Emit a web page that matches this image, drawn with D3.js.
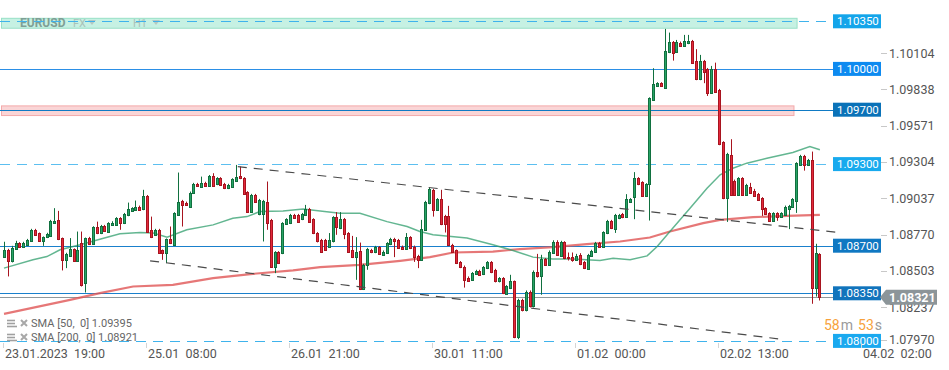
<!DOCTYPE html>
<html>
<head>
<meta charset="utf-8">
<script src="https://cdn.jsdelivr.net/npm/d3@7"></script>
<style>
  body { margin: 0; background: #fff; }
  svg { display: block; font-family: Roboto, "Open Sans", sans-serif; }
</style>
</head>
<body>
<div id="chart"></div>
<script>
// EURUSD H1, first candle 23.01.2023 19:00, one candle per hour
var ohlc = [
  [1.08620,1.08729,1.08614,1.08670],[1.08670,1.08677,1.08474,1.08584],[1.08584,1.08699,1.08577,1.08682],
  [1.08675,1.08736,1.08670,1.08719],[1.08719,1.08726,1.08690,1.08694],[1.08694,1.08729,1.08687,1.08719],
  [1.08707,1.08750,1.08700,1.08743],[1.08731,1.08824,1.08728,1.08817],[1.08817,1.08824,1.08773,1.08780],
  [1.08793,1.08797,1.08729,1.08738],[1.08738,1.08768,1.08699,1.08763],[1.08763,1.08795,1.08756,1.08787],
  [1.08775,1.08890,1.08768,1.08885],[1.08870,1.08976,1.08866,1.08885],[1.08890,1.08956,1.08741,1.08748],
  [1.08756,1.08760,1.08518,1.08596],[1.08596,1.08648,1.08535,1.08640],[1.08625,1.08756,1.08618,1.08675],
  [1.08675,1.08680,1.08584,1.08591],[1.08591,1.08804,1.08584,1.08665],[1.08723,1.08804,1.08400,1.08412],
  [1.08425,1.08760,1.08356,1.08756],[1.08756,1.08765,1.08707,1.08714],[1.08714,1.08843,1.08707,1.08836],
  [1.08836,1.08877,1.08785,1.08793],[1.08793,1.08853,1.08785,1.08846],[1.08846,1.08853,1.08804,1.08811],
  [1.08804,1.08873,1.08797,1.08866],[1.08853,1.08880,1.08846,1.08870],[1.08853,1.08910,1.08846,1.08902],
  [1.08902,1.08910,1.08817,1.08866],[1.08866,1.08941,1.08859,1.08934],[1.08924,1.09017,1.08917,1.08969],
  [1.08956,1.08983,1.08949,1.08976],[1.08964,1.09032,1.08956,1.08988],[1.08988,1.08995,1.08956,1.08964],
  [1.08969,1.09111,1.08961,1.09066],[1.09066,1.09073,1.08797,1.08804],[1.08817,1.08914,1.08756,1.08763],
  [1.08780,1.08824,1.08773,1.08817],[1.08817,1.08824,1.08643,1.08650],[1.08665,1.08672,1.08596,1.08645],
  [1.08645,1.08753,1.08572,1.08748],[1.08748,1.08841,1.08712,1.08719],[1.08707,1.08946,1.08700,1.08939],
  [1.08927,1.09238,1.08920,1.09024],[1.09030,1.09037,1.08841,1.09000],[1.09017,1.09024,1.08993,1.09000],
  [1.08988,1.09098,1.08981,1.09091],[1.09086,1.09162,1.09080,1.09155],[1.09155,1.09162,1.09133,1.09140],
  [1.09135,1.09208,1.09128,1.09164],[1.09164,1.09170,1.09133,1.09140],[1.09140,1.09220,1.09133,1.09213],
  [1.09213,1.09233,1.09133,1.09140],[1.09153,1.09204,1.09145,1.09196],[1.09196,1.09204,1.09140,1.09147],
  [1.09155,1.09162,1.09116,1.09123],[1.09123,1.09155,1.09116,1.09147],[1.09135,1.09196,1.09128,1.09189],
  [1.09179,1.09294,1.09172,1.09204],[1.09213,1.09282,1.09189,1.09196],[1.09196,1.09204,1.09074,1.09081],
  [1.09094,1.09101,1.08944,1.08951],[1.08949,1.09081,1.08942,1.09074],[1.09074,1.09081,1.09017,1.09024],
  [1.08932,1.09044,1.08924,1.09037],[1.08932,1.09037,1.08731,1.09030],[1.09024,1.09172,1.08817,1.08866],
  [1.08890,1.08897,1.08540,1.08547],[1.08547,1.08660,1.08498,1.08653],[1.08653,1.08660,1.08565,1.08572],
  [1.08645,1.08873,1.08638,1.08866],[1.08860,1.08902,1.08853,1.08895],[1.08866,1.08934,1.08859,1.08927],
  [1.08927,1.08934,1.08900,1.08907],[1.08927,1.08934,1.08870,1.08877],[1.08895,1.08941,1.08888,1.08934],
  [1.08927,1.09000,1.08920,1.08971],[1.08971,1.08978,1.08870,1.08877],[1.08895,1.08902,1.08785,1.08793],
  [1.08793,1.08800,1.08724,1.08731],
  [1.08743,1.08750,1.08650,1.08657],[1.08743,1.08750,1.08663,1.08670],[1.08694,1.08793,1.08687,1.08743],
  [1.08731,1.08917,1.08724,1.08910],[1.08910,1.08947,1.08780,1.08834],[1.08829,1.08947,1.08822,1.08897],
  [1.08897,1.08904,1.08748,1.08787],[1.08793,1.08800,1.08650,1.08657],[1.08670,1.08772,1.08609,1.08616],
  [1.08616,1.08763,1.08449,1.08653],[1.08662,1.08723,1.08374,1.08381],[1.08381,1.08567,1.08374,1.08559],
  [1.08559,1.08684,1.08523,1.08677],[1.08670,1.08677,1.08645,1.08653],[1.08653,1.08699,1.08645,1.08689],
  [1.08689,1.08697,1.08633,1.08640],[1.08635,1.08665,1.08628,1.08657],[1.08650,1.08726,1.08643,1.08719],
  [1.08711,1.08758,1.08704,1.08750],[1.08750,1.08758,1.08616,1.08731],[1.08743,1.08750,1.08679,1.08686],
  [1.08694,1.08701,1.08670,1.08677],[1.08677,1.08793,1.08670,1.08763],[1.08763,1.08770,1.08675,1.08682],
  [1.08694,1.08701,1.08581,1.08616],[1.08625,1.08633,1.08535,1.08596],[1.08596,1.08890,1.08589,1.08822],
  [1.08817,1.09030,1.08810,1.09024],[1.09013,1.09130,1.09005,1.09116],[1.09111,1.09118,1.08914,1.08964],
  [1.08964,1.09050,1.08956,1.09042],[1.09042,1.09111,1.08851,1.08858],[1.08919,1.08927,1.08797,1.08858],
  [1.08919,1.08993,1.08700,1.08707],[1.08707,1.08714,1.08650,1.08657],[1.08665,1.08672,1.08565,1.08572],
  [1.08579,1.08587,1.08535,1.08542],[1.08547,1.08554,1.08392,1.08449],[1.08466,1.08474,1.08434,1.08442],
  [1.08449,1.08506,1.08442,1.08498],[1.08493,1.08523,1.08486,1.08515],[1.08515,1.08523,1.08478,1.08486],
  [1.08491,1.08550,1.08484,1.08542],[1.08535,1.08587,1.08528,1.08579],[1.08579,1.08587,1.08498,1.08506],
  [1.08523,1.08530,1.08430,1.08437],[1.08437,1.08469,1.08430,1.08462],[1.08462,1.08469,1.08344,1.08351],
  [1.08346,1.08410,1.08339,1.08400],[1.08388,1.08486,1.08381,1.08437],[1.08437,1.08444,1.08020,1.08028],
  [1.08028,1.08310,1.08013,1.08302],[1.08302,1.08310,1.08217,1.08224],[1.08224,1.08371,1.08217,1.08363],
  [1.08363,1.08371,1.08246,1.08253],[1.08253,1.08518,1.08246,1.08510],[1.08510,1.08640,1.08466,1.08474],
  [1.08474,1.08633,1.08339,1.08601],[1.08601,1.08609,1.08552,1.08559],[1.08559,1.08665,1.08552,1.08657],
  [1.08650,1.08740,1.08643,1.08726],[1.08726,1.08740,1.08625,1.08633],[1.08625,1.08736,1.08618,1.08726],
  [1.08726,1.08733,1.08601,1.08608],[1.08620,1.08650,1.08591,1.08608],[1.08616,1.08650,1.08582,1.08596],
  [1.08596,1.08640,1.08589,1.08625],[1.08633,1.08645,1.08557,1.08564],[1.08579,1.08587,1.08528,1.08535],
  [1.08530,1.08640,1.08523,1.08633],[1.08625,1.08670,1.08618,1.08662],[1.08657,1.08728,1.08650,1.08721],
  [1.08721,1.08728,1.08687,1.08694],[1.08694,1.08806,1.08687,1.08798],[1.08793,1.08890,1.08785,1.08883],
  [1.08883,1.08890,1.08822,1.08829],[1.08822,1.08934,1.08794,1.08927],
  [1.08902,1.08934,1.08895,1.08927],[1.08934,1.08941,1.08902,1.08910],[1.08914,1.09079,1.08907,1.09042],
  [1.09024,1.09050,1.09017,1.09042],[1.09061,1.09241,1.08895,1.09196],[1.09196,1.09204,1.09145,1.09153],
  [1.09167,1.09174,1.09059,1.09066],[1.09066,1.09160,1.09059,1.09153],[1.09153,1.09791,1.08885,1.09784],
  [1.09772,1.10005,1.09765,1.09887],[1.09877,1.09902,1.09870,1.09895],[1.09895,1.09902,1.09870,1.09877],
  [1.09862,1.10294,1.09855,1.10132],[1.10123,1.10267,1.10116,1.10198],[1.10198,1.10205,1.10061,1.10115],
  [1.10127,1.10213,1.10120,1.10198],[1.10194,1.10201,1.10164,1.10171],[1.10171,1.10250,1.10164,1.10206],
  [1.10189,1.10250,1.10182,1.10206],[1.10206,1.10213,1.10039,1.10046],[1.10059,1.10145,1.09917,1.09924],
  [1.09924,1.10103,1.09917,1.10059],[1.10059,1.10066,1.09895,1.09980],[1.10000,1.10007,1.09801,1.09826],
  [1.09826,1.10022,1.09818,1.10000],[1.10000,1.10046,1.09826,1.09833],[1.09846,1.09853,1.09439,1.09446],
  [1.09461,1.09468,1.09042,1.09049],[1.09049,1.09383,1.08875,1.09375],[1.09368,1.09483,1.09066,1.09074],
  [1.09179,1.09186,1.09066,1.09074],[1.09074,1.09204,1.09066,1.09196],[1.09196,1.09204,1.09066,1.09074],
  [1.09074,1.09155,1.09066,1.09147],[1.09135,1.09162,1.09084,1.09091],[1.09103,1.09118,1.09061,1.09069],
  [1.09081,1.09088,1.09030,1.09037],[1.09049,1.09057,1.08919,1.08969],[1.08976,1.08983,1.08927,1.08934],
  [1.08939,1.08946,1.08875,1.08883],[1.08883,1.08946,1.08875,1.08939],[1.08939,1.08946,1.08883,1.08914],
  [1.08914,1.08946,1.08907,1.08939],[1.08927,1.08995,1.08919,1.08988],[1.08971,1.09000,1.08822,1.08993],
  [1.08988,1.09050,1.08981,1.09042],[1.09032,1.09314,1.08941,1.09307],[1.09294,1.09368,1.09287,1.09360],
  [1.09360,1.09368,1.09252,1.09294],[1.09294,1.09338,1.09287,1.09331],[1.09331,1.09392,1.08273,1.08388],
  [1.08388,1.08714,1.08326,1.08645],[1.08638,1.08645,1.08297,1.08321]
];

// moving averages: [candle index, price]
var sma50 = [[0,1.08535],[7.5,1.08596],[11.1,1.08620],[14.5,1.08670],[19.7,1.08707],[24.8,1.08748],
  [30,1.08787],[35.2,1.08797],[38.6,1.08793],[42.2,1.08763],[47.3,1.08817],[54.1,1.08853],[59.2,1.08902],
  [62.9,1.08914],[66.2,1.08951],[72.2,1.08956],[77.4,1.08969],[81.8,1.08956],[86.9,1.08939],[92.1,1.08939],
  [99.1,1.08877],[104.3,1.08841],[107.6,1.08804],[111,1.08780],[119.8,1.08756],[126.5,1.08707],
  [131.7,1.08665],[136.9,1.08616],[142,1.08603],[147.2,1.08603],[154.2,1.08591],[157.6,1.08608],
  [162,1.08596],[166.4,1.08625],[169,1.08694],[172.3,1.08804],[177.5,1.08976],[181.9,1.09123],
  [185.3,1.09221],[188.6,1.09270],[192.2,1.09307],[197.4,1.09343],[204.1,1.09385],[208.5,1.09429],
  [211.1,1.09405]];
var sma200 = [[0,1.08199],[17.1,1.08302],[24.8,1.08351],[33.4,1.08400],[43.7,1.08412],[54.1,1.08462],
  [64.4,1.08493],[74.8,1.08518],[81.8,1.08543],[92.1,1.08559],[102.5,1.08589],[110.2,1.08616],
  [116.2,1.08650],[126.5,1.08657],[133.5,1.08675],[142,1.08689],[150.8,1.08711],[159.4,1.08731],
  [167.1,1.08760],[172.3,1.08804],[180.9,1.08866],[185.3,1.08890],[193.8,1.08910],[202.6,1.08919],
  [211.1,1.08927]];

var levels = [1.1035, 1.1000, 1.0970, 1.0930, 1.0870, 1.0835, 1.0800];
var levelDashed = [true, false, false, true, false, false, true];
var levelLine = ["#3fb3ec", "#2b8fe6", "#0f7ac4", "#5cbff0", "#1a80cc", "#1a80cc", "#3fb3ec"];
var levelBox = ["#14a5ea", "#0d8af0", "#0a72b8", "#18aaee", "#0f78c2", "#1174bc", "#1aa9ef"];

var zoneLow = [1.10299, 1.09657], zoneHigh = [1.10372, 1.09728], zoneEnd = [205.2, 204.4];
var zoneFill = ["#c6f1e3", "#fad5d6"], zoneStroke = ["#98e0c6", "#f3aaab"];

var trends = [[[60.5, 1.09282], [216, 1.08797]], [[37.8, 1.08589], [200.3, 1.08015]]];

var yTicks = [1.10104, 1.09838, 1.09571, 1.09304, 1.09037, 1.08770, 1.08503, 1.08237, 1.07970];
var xTickIdx = [0, 37, 74, 111, 148, 185, 222];
var xTickLab = ["23.01.2023\u00a0\u00a019:00", "25.01\u00a0\u00a008:00", "26.01\u00a0\u00a021:00", "30.01\u00a0\u00a011:00",
  "01.02\u00a0\u00a000:00", "02.02\u00a0\u00a013:00", "04.02\u00a0\u00a002:00"];
var lastPrice = 1.08321;
var smaLegend = ["SMA [50,\u00a0\u00a00] 1.09395", "SMA [200,\u00a0\u00a00] 1.08921"];

var W = 949, H = 370, plotRight = 835;
var svg = d3.select('#chart').append('svg').attr('width', W).attr('height', H);
var x = d3.scaleLinear().domain([0, 222]).range([4, 862]);
var y = d3.scaleLinear().domain([1.0800, 1.1035]).range([340.9, 21.3]);

// zones
zoneLow.forEach(function(lo, i) {
  svg.append('rect')
    .attr('x', 1.5).attr('y', y(zoneHigh[i]))
    .attr('width', x(zoneEnd[i]) - 1.5).attr('height', y(lo) - y(zoneHigh[i]))
    .attr('fill', zoneFill[i]).attr('stroke', zoneStroke[i]).attr('stroke-width', 1);
});

// title on the green zone
var title = svg.append('g');
title.append('text').attr('x', 20).attr('y', 27).attr('font-size', 12).attr('font-weight', 'bold')
  .attr('fill', '#7f9f95').text('EURUSD');
title.append('text').attr('x', 73).attr('y', 27).attr('font-size', 11).attr('fill', '#a9c2b9').text('FX');
title.append('text').attr('x', 133).attr('y', 27).attr('font-size', 11).attr('fill', '#a9c2b9').text('H1');
[92, 156].forEach(function(cx) {
  title.append('path').attr('d', 'M' + (cx - 4) + ',20L' + (cx + 4) + ',20L' + cx + ',25Z').attr('fill', '#b5c8c1');
});

// horizontal price levels
levels.forEach(function(p, i) {
  var yy = Math.round(y(p)) + 0.5;
  svg.append('line').attr('x1', 0).attr('x2', plotRight).attr('y1', yy).attr('y2', yy)
    .attr('stroke', levelLine[i]).attr('stroke-width', 1.2)
    .attr('stroke-dasharray', levelDashed[i] ? '10,7' : null);
});
// current price line
svg.append('line').attr('x1', 0).attr('x2', plotRight)
  .attr('y1', Math.round(y(lastPrice)) + 0.5).attr('y2', Math.round(y(lastPrice)) + 0.5)
  .attr('stroke', '#8e979b').attr('stroke-width', 1);

// moving averages
var line = d3.line().x(function(d) { return x(d[0]); }).y(function(d) { return y(d[1]); });
svg.append('path').datum(sma200).attr('d', line).attr('fill', 'none')
  .attr('stroke', '#e05555').attr('stroke-opacity', 0.8).attr('stroke-width', 2.2);
svg.append('path').datum(sma50).attr('d', line).attr('fill', 'none')
  .attr('stroke', '#2f9d6c').attr('stroke-opacity', 0.75).attr('stroke-width', 1.5);

// candles
var cg = svg.append('g');
ohlc.forEach(function(d, i) {
  var up = d[3] >= d[0];
  var cx = Math.round(x(i));
  var dark = up ? '#11703f' : '#a8141f';
  cg.append('line').attr('x1', cx + 0.5).attr('x2', cx + 0.5)
    .attr('y1', y(d[1])).attr('y2', y(d[2])).attr('stroke', dark).attr('stroke-width', 1);
  var top = Math.round(y(Math.max(d[0], d[3]))) + 0.5;
  var bot = Math.round(y(Math.min(d[0], d[3]))) + 0.5;
  cg.append('rect').attr('x', cx - 0.5).attr('y', top)
    .attr('width', 2).attr('height', Math.max(1, bot - top))
    .attr('fill', up ? '#27a366' : '#e3283b').attr('stroke', dark).attr('stroke-width', 1);
});

// trend lines
trends.forEach(function(t) {
  svg.append('line').attr('x1', x(t[0][0])).attr('y1', y(t[0][1]))
    .attr('x2', x(t[1][0])).attr('y2', y(t[1][1]))
    .attr('stroke', '#4a4a4a').attr('stroke-width', 1.2).attr('stroke-dasharray', '9,7');
});

// y axis
yTicks.forEach(function(p) {
  var yy = Math.min(y(p) - 1.5, 339.5);
  svg.append('line').attr('x1', 881).attr('x2', 887).attr('y1', Math.round(yy) + 0.5).attr('y2', Math.round(yy) + 0.5)
    .attr('stroke', '#c8c8c8');
  svg.append('text').attr('x', 889).attr('y', yy).attr('dy', '0.35em')
    .attr('font-size', 12.5).attr('fill', '#555').text(p.toFixed(5));
});

// level boxes
levels.forEach(function(p, i) {
  var yy = y(p);
  svg.append('rect').attr('x', 833).attr('y', yy - 7).attr('width', 48).attr('height', 14).attr('fill', levelBox[i]);
  svg.append('text').attr('x', 837).attr('y', yy).attr('dy', '0.36em').attr('font-size', 11.5)
    .attr('fill', '#fff').text(p.toFixed(5));
});

// current price tag
var yp = y(lastPrice);
svg.append('path')
  .attr('d', 'M880,' + yp + 'L886,' + (yp - 7.5) + 'L937,' + (yp - 7.5) + 'L937,' + (yp + 7.5) + 'L886,' + (yp + 7.5) + 'Z')
  .attr('fill', '#8c9599');
svg.append('text').attr('x', 889).attr('y', yp).attr('dy', '0.36em').attr('font-size', 12.5)
  .attr('font-weight', 'bold').attr('fill', '#fff').text(lastPrice.toFixed(5));

// countdown
var cd = svg.append('text').attr('x', 824).attr('y', 330).attr('font-size', 14);
cd.append('tspan').attr('fill', '#f7a23b').text('58');
cd.append('tspan').attr('fill', '#9a9a9a').attr('dx', 1).text('m');
cd.append('tspan').attr('fill', '#f7a23b').attr('dx', 5).text('53');
cd.append('tspan').attr('fill', '#9a9a9a').attr('dx', 1).text('s');

// x axis
xTickIdx.forEach(function(idx, i) {
  var xx = Math.round(x(idx)) - 0.5;
  svg.append('line').attr('x1', xx).attr('x2', xx).attr('y1', 343).attr('y2', 348).attr('stroke', '#d5d5d5');
  svg.append('text').attr('x', x(idx) + 1).attr('y', 357.5).attr('font-size', 12.5).attr('fill', '#555')
    .text(xTickLab[i]);
});

// SMA legend
smaLegend.forEach(function(s, i) {
  var yy = 323 + i * 14;
  var g = svg.append('g').attr('transform', 'translate(0,' + yy + ')');
  [-3, 0, 3].forEach(function(dy, k) {
    g.append('line').attr('x1', 7).attr('x2', k == 2 ? 17 : 15).attr('y1', dy + 0.5).attr('y2', dy + 0.5)
      .attr('stroke', '#a0a0a0').attr('stroke-width', 1.6);
  });
  g.append('path').attr('d', 'M21,-3L27,3M27,-3L21,3').attr('stroke', '#a8a8a8').attr('stroke-width', 2);
  g.append('text').attr('x', 31).attr('y', 0).attr('dy', '0.36em').attr('font-size', 11)
    .attr('fill', '#666').text(s);
});
</script>
</body>
</html>
